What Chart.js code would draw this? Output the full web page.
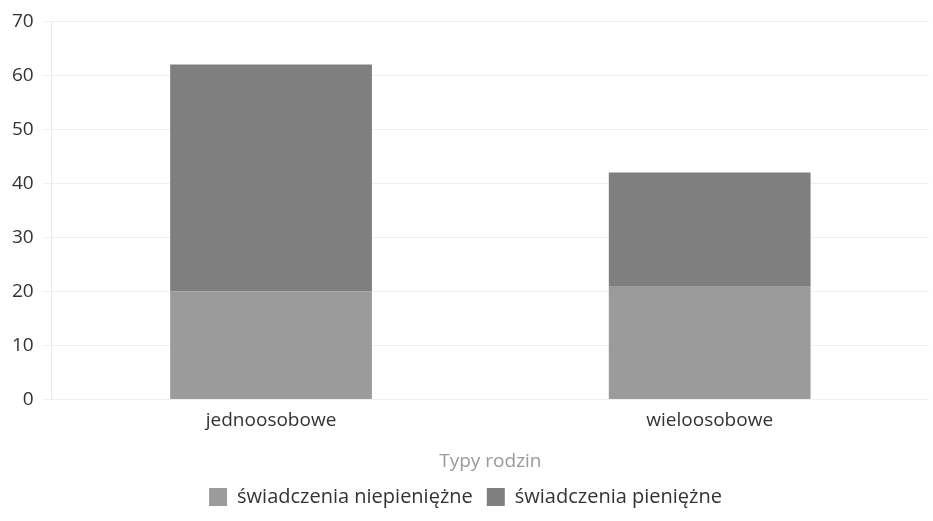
<!DOCTYPE html>
<html>
<head>
<meta charset="utf-8">
<script src="https://cdn.jsdelivr.net/npm/chart.js@4"></script>
<style>
  html, body { margin: 0; padding: 0; background: #fff; }
  #wrap { width: 933px; height: 521px; }
</style>
</head>
<body>
<div id="wrap"><canvas id="chart"></canvas></div>
<script>
// data
const categories = ['jednoosobowe', 'wieloosobowe'];
const niepieniezne = [20, 21];
const pieniezne = [42, 21];
const seriesNames = ['świadczenia niepieniężne', 'świadczenia pieniężne'];

Chart.defaults.font.family = '"Open Sans", sans-serif';
Chart.defaults.font.size = 19;
Chart.defaults.color = '#333';

const ctx = document.getElementById('chart').getContext('2d');
new Chart(ctx, {
  type: 'bar',
  data: {
    labels: categories,
    datasets: [
      { label: seriesNames[0], data: niepieniezne, backgroundColor: '#9b9b9b', borderWidth: 0 },
      { label: seriesNames[1], data: pieniezne, backgroundColor: '#7f7f7f', borderWidth: 0 }
    ]
  },
  options: {
    responsive: true,
    maintainAspectRatio: false,
    animation: false,
    layout: { padding: { top: 8, right: 4, left: 2, bottom: 4 } },
    categoryPercentage: 0.92,
    barPercentage: 0.5,
    plugins: {
      legend: {
        position: 'bottom',
        labels: { boxWidth: 18, boxHeight: 18, padding: 14, color: '#333', font: { size: 20 } }
      },
      tooltip: { enabled: false }
    },
    scales: {
      x: {
        stacked: true,
        grid: { display: false },
        border: { display: false },
        ticks: { color: '#333', padding: 2 },
        title: { display: true, text: 'Typy rodzin', color: '#999', padding: { top: 16, bottom: 0 } }
      },
      y: {
        stacked: true,
        min: 0,
        max: 70,
        ticks: { stepSize: 10, color: '#333', padding: 10 },
        grid: { color: '#f0f0f0' },
        border: { display: true, color: '#e8e8e8' }
      }
    }
  }
});
</script>
</body>
</html>
